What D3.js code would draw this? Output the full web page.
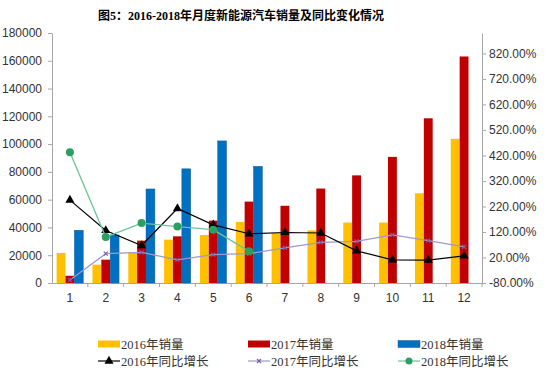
<!DOCTYPE html>
<html>
<head>
<meta charset="utf-8">
<script src="https://cdn.jsdelivr.net/npm/d3@7"></script>
<style>
  body { margin: 0; background: #fff; }
  svg { display: block; font-family: "Liberation Serif", "Noto Sans CJK SC", serif; }
</style>
</head>
<body>
<svg></svg>
<script>
const width = 550;
const height = 372;

// data
const months = ["1","2","3","4","5","6","7","8","9","10","11","12"];
const sales2016 = [21600, 13200, 22300, 31200, 34600, 44000, 36000, 37900, 43500, 43500, 64600, 103800];
const sales2017 = [5200, 16800, 30500, 33600, 44900, 58600, 55600, 68000, 77500, 90800, 118600, 163100];
const sales2018 = [38000, 34600, 67700, 82200, 102300, 84000];
const yoy2016 = [245, 126, 67, 212, 148, 113, 118, 116, 46, 11, 10, 26];
const yoy2017 = [-68, 35, 40, 11, 31, 35, 58, 79, 83, 109, 86, 62];
const yoy2018 = [433, 100, 155, 141, 129, 44];
const leftTicks = [0, 20000, 40000, 60000, 80000, 100000, 120000, 140000, 160000, 180000];
const rightTicks = [-80, 20, 120, 220, 320, 420, 520, 620, 720, 820];

const margin = {top: 33, right: 68, bottom: 89, left: 52};
const viewWidth = width - margin.left - margin.right;
const viewHeight = height - margin.top - margin.bottom;

let svg = d3.select("svg")
            .attr("width", width)
            .attr("height", height);

svg.append("text")
   .attr("x", 241)
   .attr("y", 20)
   .attr("text-anchor", "middle")
   .style("font-size", "12px")
   .style("font-weight", "bold")
   .text("图5：2016-2018年月度新能源汽车销量及同比变化情况");

const g = svg.append("g")
             .attr("transform", "translate(" + margin.left + "," + margin.top + ")");

const x = d3.scaleBand().domain(months).range([0, viewWidth]);
const inner = d3.scaleBand()
                .domain(["a", "b", "c"])
                .range([0, x.bandwidth()])
                .paddingOuter(0.52);
const yLeft = d3.scaleLinear().domain([0, 180000]).range([viewHeight, 0]);
const yRight = d3.scaleLinear().domain([-80, 900]).range([viewHeight, 0]);

const axisColor = "#a6a6a6";

// axes
const xAxis = g.append("g")
               .attr("transform", "translate(0," + viewHeight + ")")
               .call(d3.axisBottom(x).tickSize(0).tickPadding(10));
xAxis.selectAll("text").style("font-size", "12px").style("fill", "#333");
xAxis.select(".domain").attr("stroke", axisColor);
xAxis.selectAll(".sep")
     .data(d3.range(1, months.length + 1))
     .enter()
     .append("line")
     .attr("class", "sep")
     .attr("x1", i => i * x.step())
     .attr("x2", i => i * x.step())
     .attr("y1", 0)
     .attr("y2", 4)
     .attr("stroke", axisColor);

const leftAxis = g.append("g")
                  .call(d3.axisLeft(yLeft).tickValues(leftTicks).tickSize(4).tickSizeOuter(0).tickPadding(6).tickFormat(d3.format("d")));
leftAxis.selectAll("text").style("font-size", "12px").style("fill", "#333");
leftAxis.selectAll("line, .domain").attr("stroke", axisColor);

const rightAxis = g.append("g")
                   .attr("transform", "translate(" + viewWidth + ",0)")
                   .call(d3.axisRight(yRight).tickValues(rightTicks).tickSize(4).tickSizeOuter(0).tickPadding(3).tickFormat(d => d.toFixed(2) + "%"));
rightAxis.selectAll("text").style("font-size", "12px").style("fill", "#333");
rightAxis.selectAll("line, .domain").attr("stroke", axisColor);

// bars
const barSeries = [
  {key: "a", values: sales2016, color: "#ffc000", stroke: "none"},
  {key: "b", values: sales2017, color: "#c00000", stroke: "none"},
  {key: "c", values: sales2018, color: "#0070c0", stroke: "#1f5f99"}
];
barSeries.forEach(s => {
  g.append("g")
   .selectAll("rect")
   .data(s.values)
   .enter()
   .append("rect")
   .attr("x", (d, i) => x(months[i]) + inner(s.key))
   .attr("y", d => yLeft(d))
   .attr("width", inner.bandwidth())
   .attr("height", d => viewHeight - yLeft(d))
   .style("fill", s.color)
   .style("stroke", s.stroke)
   .style("stroke-width", 0.5);
});

// lines
const cx = (d, i) => x(months[i]) + x.bandwidth() / 2;
const line = d3.line().x(cx).y(d => yRight(d));
const tri = d3.symbol().type(d3.symbolTriangle).size(36);

g.append("path").datum(yoy2017)
 .attr("d", line).attr("fill", "none").attr("stroke", "#9a9ad0").attr("stroke-width", 1.3);
g.append("g").selectAll("path").data(yoy2017).enter().append("path")
 .attr("transform", (d, i) => "translate(" + cx(d, i) + "," + yRight(d) + ")")
 .attr("d", d3.symbol().type(d3.symbolX).size(12))
 .attr("stroke", "#7a5fb0").attr("stroke-width", 1.2);

g.append("path").datum(yoy2016)
 .attr("d", line).attr("fill", "none").attr("stroke", "#000").attr("stroke-width", 1.2);
g.append("g").selectAll("path").data(yoy2016).enter().append("path")
 .attr("transform", (d, i) => "translate(" + cx(d, i) + "," + yRight(d) + ")")
 .attr("d", tri).attr("fill", "#000");

g.append("path").datum(yoy2018)
 .attr("d", line).attr("fill", "none").attr("stroke", "#6cc59a").attr("stroke-width", 1.3);
g.append("g").selectAll("circle").data(yoy2018).enter().append("circle")
 .attr("cx", cx).attr("cy", d => yRight(d)).attr("r", 4)
 .attr("fill", "#2e9e62");

// legend
const legendCols = [98, 248, 398];
const legendItems = [
  {label: "2016年销量", type: "rect", color: "#ffc000"},
  {label: "2017年销量", type: "rect", color: "#c00000"},
  {label: "2018年销量", type: "rect", color: "#0070c0"},
  {label: "2016年同比增长", type: "tri", color: "#000"},
  {label: "2017年同比增长", type: "x", color: "#9a9ad0"},
  {label: "2018年同比增长", type: "dot", color: "#6cc59a"}
];
legendItems.forEach((it, i) => {
  const lx = legendCols[i % 3];
  const ly = i < 3 ? 344 : 361;
  const lg = svg.append("g").attr("transform", "translate(" + lx + "," + ly + ")");
  if (it.type === "rect") {
    lg.append("rect").attr("x", 0).attr("y", -3.5).attr("width", 22).attr("height", 7)
      .style("fill", it.color).style("stroke", it.type === "rect" && i === 2 ? "#1f5f99" : "none").style("stroke-width", 0.5);
  } else {
    lg.append("line").attr("x1", 0).attr("x2", 22).attr("y1", 0).attr("y2", 0)
      .attr("stroke", it.color).attr("stroke-width", 1.2);
    if (it.type === "tri") lg.append("path").attr("transform", "translate(11,0)").attr("d", tri).attr("fill", "#000");
    if (it.type === "x") lg.append("path").attr("transform", "translate(11,0)")
      .attr("d", d3.symbol().type(d3.symbolX).size(12)).attr("stroke", "#7a5fb0").attr("stroke-width", 1.2);
    if (it.type === "dot") lg.append("circle").attr("cx", 11).attr("cy", 0).attr("r", 3.5).attr("fill", "#2e9e62");
  }
  lg.append("text").attr("x", 23).attr("y", 4.5)
    .style("font-size", "12.5px").style("fill", "#333").text(it.label);
});
</script>
</body>
</html>
